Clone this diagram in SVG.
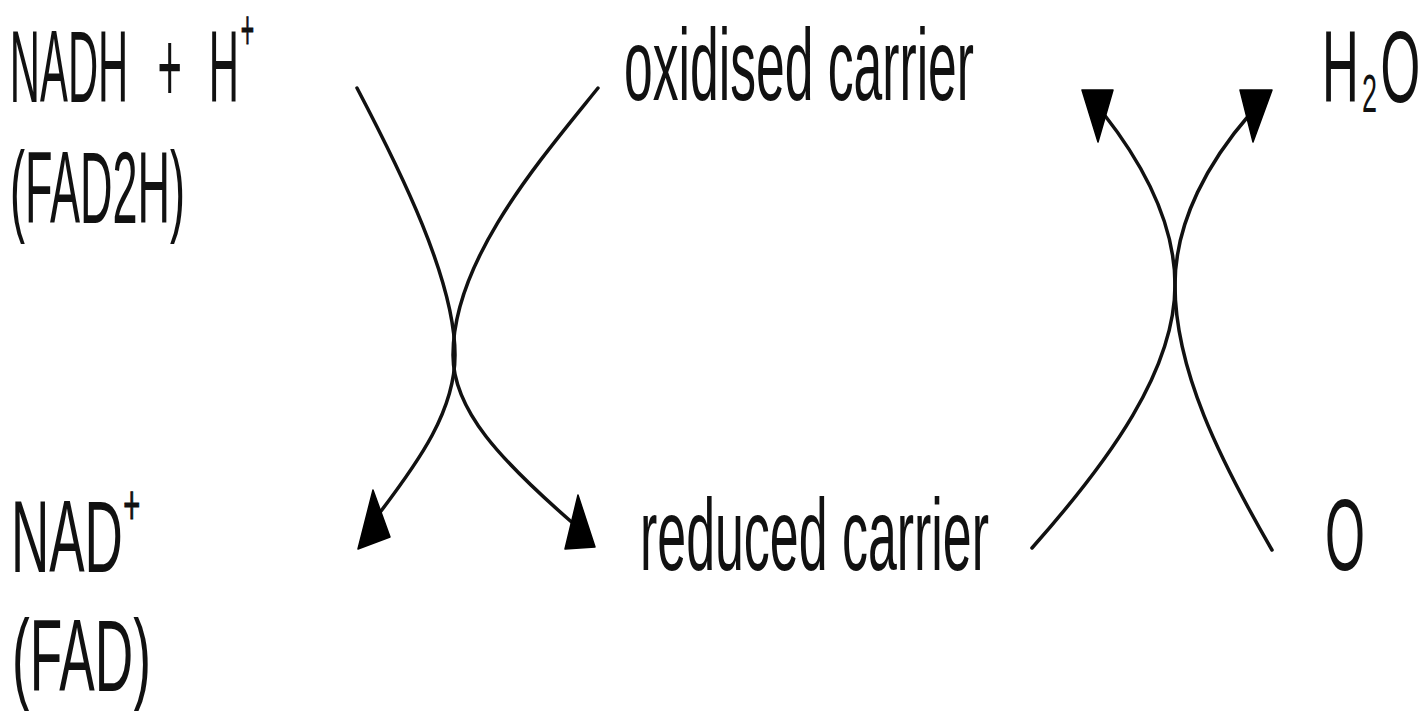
<svg xmlns="http://www.w3.org/2000/svg" width="1422" height="711" viewBox="0 0 1422 711">
<style>
  .t { font-family: "Liberation Sans", Arial, sans-serif; font-size: 102px; fill: #111; }
  .sup { font-size: 56px; stroke: #111; stroke-width: 1.2; }
  .sub { font-size: 54px; }
  .c { fill: none; stroke: #111; stroke-width: 3.5; stroke-linecap: round; }
  .head { fill: #000; stroke: #000; stroke-width: 1.5; stroke-linejoin: round; }
</style>
<rect width="1422" height="711" fill="#fff"/>
<g id="connectors">
  <path class="c" d="M357,88 C400,170 455,280 455,355 C455,410 420,460 378,515"/>
  <path class="c" d="M598,88 C540,160 453,260 453,355 C453,410 500,460 575,525"/>
  <path class="c" d="M1032,548 C1110,460 1175,370 1175,285 C1175,220 1140,160 1103,113"/>
  <path class="c" d="M1272,550 C1220,460 1175,370 1175,285 C1175,220 1210,160 1250,114"/>
  <polygon class="head" points="373,490 358,549 390,537"/>
  <polygon class="head" points="578,495 565,549 595,547"/>
  <polygon class="head" points="1082,90 1113,90 1098,142"/>
  <polygon class="head" points="1240,90 1272,90 1253,142"/>
</g>
<g id="nadh">
  <text class="t" transform="scale(0.41,1)" y="102"><tspan x="24">NADH</tspan><tspan x="384">+</tspan><tspan x="509">H</tspan><tspan class="sup" x="587" y="49">+</tspan></text>
  <text class="t" x="10" y="223" textLength="175" lengthAdjust="spacingAndGlyphs">(FAD2H)</text>
</g>
<g id="oxidised">
  <text class="t" x="624" y="100" textLength="350" lengthAdjust="spacingAndGlyphs">oxidised carrier</text>
</g>
<g id="h2o">
  <text class="t" transform="translate(1322,0) scale(0.5,1)" y="102"><tspan x="0">H</tspan><tspan class="sub" x="80" y="112">2</tspan><tspan x="117" y="102">O</tspan></text>
</g>
<g id="nad">
  <text class="t" transform="scale(0.52,1)" y="572"><tspan x="21">NAD</tspan><tspan class="sup" x="237" y="524">+</tspan></text>
  <text class="t" x="12" y="691" textLength="139" lengthAdjust="spacingAndGlyphs">(FAD)</text>
</g>
<g id="reduced">
  <text class="t" x="640" y="570" textLength="349" lengthAdjust="spacingAndGlyphs">reduced carrier</text>
</g>
<g id="o">
  <text class="t" x="1325" y="570" textLength="40" lengthAdjust="spacingAndGlyphs">O</text>
</g>
</svg>
